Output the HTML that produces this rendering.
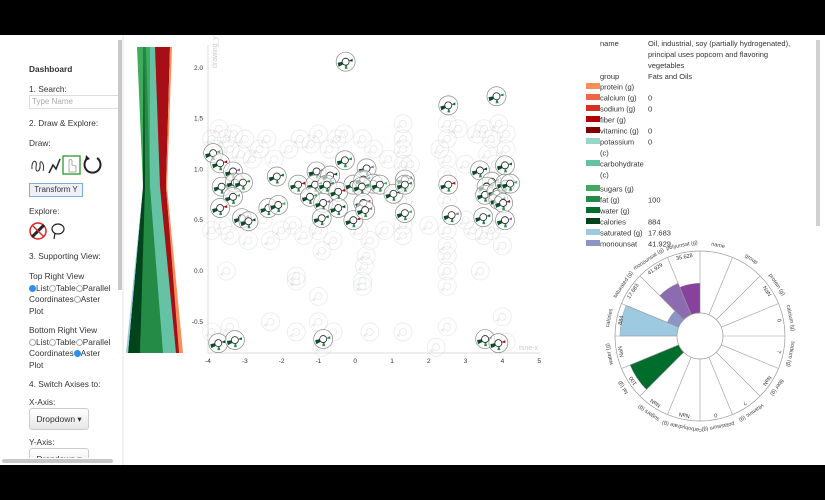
<!DOCTYPE html>
<html><head><meta charset="utf-8">
<style>
html,body{margin:0;padding:0;width:825px;height:500px;overflow:hidden;background:#000;font-family:"Liberation Sans",sans-serif;}
#main{position:absolute;left:0;top:35px;width:825px;height:430px;background:#fff;}
#side{position:absolute;left:0;top:35px;width:118px;height:423px;overflow:hidden;font-size:8.3px;color:#333;}
.t{position:absolute;left:29px;white-space:nowrap;}
.rd{display:inline-block;width:7px;height:7px;border:1px solid #aaa;border-radius:50%;vertical-align:-1px;box-sizing:border-box;}
.rd.on{background:#2f8fef;border-color:#2f8fef;}
.btn{position:absolute;left:29px;width:58px;height:20px;border:1px solid #ccc;border-radius:3px;background:linear-gradient(#fff,#e6e6e6);font-size:8.5px;line-height:20px;text-align:center;color:#333;}
svg{position:absolute;left:0;top:0;}
</style></head><body>
<div id="main"></div>
<div id="side">
 <div class="t" style="top:29px;font-weight:bold">Dashboard</div>
 <div class="t" style="top:49px">1. Search:</div>
 <div style="position:absolute;left:29px;top:60px;width:92px;height:12px;border:1px solid #ddd;font-size:8px;color:#aaa;line-height:12px;padding-left:2px">Type Name</div>
 <div class="t" style="top:83px">2. Draw &amp; Explore:</div>
 <div class="t" style="top:103px">Draw:</div>
 <svg style="left:29px;top:120px" width="60" height="22">
  <path d="M3,14 C2,4 9,4 7,12 C6,18 12,18 11,8 C12,4 16,10 14,16" fill="none" stroke="#333" stroke-width="1"/>
  <path d="M20,18 L24,10 L27,14 L31,4" fill="none" stroke="#222" stroke-width="1.5"/>
  <rect x="34" y="1" width="17" height="18" fill="none" stroke="#2a9a2a" stroke-width="1.3"/>
  <path d="M40,17 L40,6 C40,4 43,4 43,6 L43,10 L47,11 L47,17 Z" fill="none" stroke="#999" stroke-width=".8"/>
 </svg>
 <svg style="left:81px;top:119px" width="24" height="22"><path d="M16,4 A8,8 0 1 1 7,4" fill="none" stroke="#222" stroke-width="2"/><path d="M5,1 L9,5 L4,7 Z" fill="#222"/></svg>
 <div style="position:absolute;left:29px;top:148px;width:52px;height:12px;border:1px solid #7aaee8;background:#eef0f4;font-size:8px;text-align:center;line-height:12px">Transform Y</div>
 <div class="t" style="top:171px">Explore:</div>
 <svg style="left:29px;top:187px" width="44" height="20">
  <circle cx="9" cy="9" r="8" fill="#fff" stroke="#d22" stroke-width="1.5"/><path d="M3,15 L15,3" stroke="#222" stroke-width="3"/><path d="M3,3 L15,15" stroke="#d22" stroke-width="1.3"/>
  <ellipse cx="29" cy="7" rx="6" ry="5" fill="none" stroke="#222" stroke-width="1.2"/><path d="M26,11 L25,17" stroke="#222" stroke-width="1.2"/>
 </svg>
 <div class="t" style="top:216px">3. Supporting View:</div>
 <div class="t" style="top:236px">Top Right View</div>
 <div class="t" style="top:248px"><span class="rd on"></span>List<span class="rd"></span>Table<span class="rd"></span>Parallel</div>
 <div class="t" style="top:259px">Coordinates<span class="rd"></span>Aster</div>
 <div class="t" style="top:271px">Plot</div>
 <div class="t" style="top:290px">Bottom Right View</div>
 <div class="t" style="top:302px"><span class="rd"></span>List<span class="rd"></span>Table<span class="rd"></span>Parallel</div>
 <div class="t" style="top:313px">Coordinates<span class="rd on"></span>Aster</div>
 <div class="t" style="top:325px">Plot</div>
 <div class="t" style="top:344px">4. Switch Axises to:</div>
 <div class="t" style="top:362px">X-Axis:</div>
 <div class="btn" style="top:373px">Dropdown ▾</div>
 <div class="t" style="top:402px">Y-Axis:</div>
 <div class="btn" style="top:413px">Dropdown ▾</div>
</div>
<svg id="chart" width="825" height="500" style="pointer-events:none">
 <rect x="118" y="40" width="4" height="250" fill="#c8c8c8"/>
 <line x1="123" y1="35" x2="123" y2="465" stroke="#e4e4e4"/>
 <rect x="2" y="459" width="111" height="4" rx="2" fill="#c8c8c8"/>
 <rect x="816" y="40" width="4" height="186" fill="#d0d0d0"/>
 <g id="pc"></g>
 <g id="axes"></g>
 <g id="faded"></g>
 <g id="hl"></g>
 <g id="list"></g>
 <g id="aster"></g>
</svg>
<script>
const NS="http://www.w3.org/2000/svg";
function mk(tag,attrs,parent){const e=document.createElementNS(NS,tag);for(const k in attrs)e.setAttribute(k,attrs[k]);parent.appendChild(e);return e;}
// ---- scatter data ----
const xTicks=[-4,-3,-2,-1,0,1,2,3,4,5];
const yTicks=[2.0,1.5,1.0,0.5,0.0,-0.5];
const hlX=[-0.26,2.53,3.84,-3.86,-3.67,-3.32,-3.63,-3.27,-3.05,-3.32,-3.67,-3.08,-2.90,-2.13,-2.36,-2.09,-1.55,-1.05,-0.68,-1.09,-0.77,-1.23,-0.46,-0.87,-0.46,-0.91,-0.28,-0.05,-0.05,0.31,0.22,0.49,0.18,0.67,0.22,0.27,1.04,1.35,1.35,1.35,2.53,2.62,3.39,3.48,3.71,3.57,3.53,3.84,3.89,4.07,4.07,4.21,4.02,4.07,-3.72,-3.27,-0.87,3.53,3.89];
const hlY=[2.06,1.63,1.72,1.16,1.06,0.98,0.83,0.87,0.87,0.73,0.62,0.52,0.49,0.93,0.62,0.65,0.85,0.98,0.94,0.85,0.85,0.73,0.78,0.67,0.62,0.52,1.09,0.85,0.50,1.01,0.90,0.86,0.83,0.85,0.67,0.60,0.76,0.90,0.85,0.57,0.85,0.55,0.99,0.53,0.88,0.83,0.75,0.78,0.70,1.04,0.86,0.86,0.67,0.50,-0.71,-0.68,-0.67,-0.67,-0.71];
const fadedX=[-3.9,-3.7,-3.5,-3.3,-3.8,-3.4,-3.6,-3.4,-3.9,-3.1,-3.0,-2.8,-2.6,-2.9,-2.4,-2.2,-1.8,-1.5,-1.2,-1.0,-0.7,-0.5,-0.3,0.2,0.5,-2.0,-2.3,-1.7,-1.4,-1.0,-0.6,0.1,0.4,0.8,0.9,-2.5,-0.9,0.3,0.2,0.25,-1.0,-1.6,0.2,1.3,1.3,1.3,1.3,1.3,1.3,1.3,1.3,1.5,2.5,2.5,2.5,2.5,2.5,2.5,2.5,2.5,2.5,2.5,2.5,2.3,2.2,2.8,3.0,2.0,3.0,3.5,3.7,3.9,4.1,4.1,3.6,3.8,4.0,3.7,3.5,4.0,3.4,4.0,4.1,3.2,3.3,-3.5,-1.6,-3.4,-2.3,-1.6,-1.0,-0.6,0.4,-0.9,-3.9];
const fadedY=[1.3,1.4,1.3,1.35,1.2,1.2,0.45,0.35,0.4,1.15,1.3,1.1,1.2,0.3,1.3,1.1,1.2,1.3,1.25,1.35,1.2,1.3,1.35,1.3,1.2,0.4,0.3,0.45,0.35,0.4,0.3,0.4,0.3,0.4,1.1,0.5,0.2,0.15,-0.1,0.05,-0.25,-0.1,-0.15,1.45,1.3,1.2,1.05,0.7,0.45,0.35,-0.6,1.05,1.45,1.3,1.1,0.95,0.7,0.4,0.25,0.15,0.0,-0.15,-0.55,1.2,-0.75,1.4,1.05,0.45,0.5,1.4,1.3,1.45,1.35,1.2,1.15,1.05,0.45,0.4,0.35,0.25,0.0,-0.45,-0.7,0.4,1.35,0.0,-0.05,-0.55,-0.5,-0.6,-0.5,-0.6,-0.6,-0.75,-0.6];
function sx(v){return 208+(v+4)*36.8;}
function sy(v){return 271-v*101.6;}
const axes=document.getElementById('axes');
let l=mk('line',{x1:208,y1:45,x2:208,y2:353,stroke:'#ddd','stroke-width':1},axes);

l=mk('line',{x1:208,y1:353,x2:540,y2:353,stroke:'#ddd','stroke-width':1},axes);

xTicks.forEach(v=>{const t=mk('text',{x:sx(v),y:363,'font-size':6.5,'text-anchor':'middle',fill:'#333'},axes);t.textContent=v;

});
yTicks.forEach(v=>{const t=mk('text',{x:203,y:sy(v)+2,'font-size':6.5,'text-anchor':'end',fill:'#333'},axes);t.textContent=v.toFixed(1);

});
let tt=mk('text',{x:538,y:350,'font-size':7,'text-anchor':'end',fill:'#ccc'},axes);tt.textContent='tsne-x';

tt=mk('text',{x:0,y:0,'font-size':7,fill:'#ccc',transform:'translate(217,68) rotate(-90)'},axes);tt.textContent='drawing_y';

const fg=document.getElementById('faded');
fadedX.forEach((v,i)=>{const g=mk('g',{transform:`translate(${sx(v)},${sy(fadedY[i])})`,opacity:0.3},fg);


mk('circle',{r:9,fill:'none',stroke:'#bbb','stroke-width':.8},g);
mk('circle',{r:3.5,fill:'#fff',stroke:'#aaa','stroke-width':.7},g);
mk('path',{d:'M-4,1 L-7,4 L-3,5 Z',fill:'#9cc8b0'},g);});
const hg=document.getElementById('hl');
const acc=['#00441b','#006d2c','#238b45','#41ab5d','#a50f15','#8c6bb1'];
hlX.forEach((v,i)=>{const g=mk('g',{transform:`translate(${sx(v)},${sy(hlY[i])})`},hg);


mk('circle',{r:9.5,fill:'rgba(255,255,255,0.6)',stroke:'#888','stroke-width':.7},g);
mk('path',{d:'M-3,0 L-8,1 L-7,5 L-3,3 Z',fill:'#0b4d2a'},g);
mk('path',{d:'M0,3 L-1,7 L2,7 L1,3 Z',fill:'#238b45'},g);
mk('path',{d:'M3,-1 L7,-3 L7,0 Z',fill:acc[i%acc.length]},g);
mk('circle',{r:3.5,fill:'#fff',stroke:'#222','stroke-width':.8},g);});
// ---- parallel strip (top y=47, mid y=187, bottom y=353) ----
const pcColors=['#41ab5d','#99d8c9','#66c2a4','#238b45','#00441b','#9ecae1','#a50f15','#fc8d59'];
const pcTop=[[137,155],[153,156],[150,155],[143,146],[144,144],[143,143],[155,170],[170,172]];
const pcMid=[[143,160],[155,165],[150,163],[143,150],[143,145],[143,143],[160,166],[166,167]];
const pcBot=[[140,163],[165,175],[160,178],[140,163],[128,140],[126,128],[176,180],[179,183]];
const pc=document.getElementById('pc');
pcColors.forEach((c,i)=>{const p=mk('polygon',{points:`${pcTop[i][0]},47 ${pcTop[i][1]},47 ${pcMid[i][1]},187 ${pcBot[i][1]},353 ${pcBot[i][0]},353 ${pcMid[i][0]},187`,fill:c},pc);

});
// ---- detail list ----
const lg=document.getElementById('list');
[['name',42],['group',75]].forEach(r=>{const t=mk('text',{x:600,y:r[1]+4,'font-size':7.5,fill:'#333'},lg);t.textContent=r[0];
});
const nameLines=['Oil, industrial, soy (partially hydrogenated),','principal uses popcorn and flavoring','vegetables'];
nameLines.forEach((s,i)=>{const t=mk('text',{x:648,y:46+i*11,'font-size':7.5,fill:'#333'},lg);t.textContent=s;
});
let gt=mk('text',{x:648,y:79,'font-size':7.5,fill:'#333'},lg);gt.textContent='Fats and Oils';

const legNames=['protein (g)','calcium (g)','sodium (g)','fiber (g)','vitaminc (g)','potassium','(c)','carbohydrate','(c)','sugars (g)','fat (g)','water (g)','calories','saturated (g)','monounsat'];
const legColors=['#fc8d59','#ef6548','#d7301f','#b30000','#7f0000','#99d8c9',null,'#66c2a4',null,'#41ab5d','#238b45','#006d2c','#00441b','#9ecae1','#8c96c6'];
const legVals=['','0','0','','0','0','','','','','100','','884','17.683','41.929'];
const legY=[87,98,109,120,131,142,153,164,175,189,200,211,222,233,244];
legNames.forEach((n,i)=>{
 if(legColors[i]){const r=mk('rect',{x:586,y:legY[i]-4,width:14,height:6,fill:legColors[i]},lg);
 }
 const t=mk('text',{x:600,y:legY[i]+2.5,'font-size':7.5,fill:'#333'},lg);t.textContent=n;
 
 if(legVals[i]){const v=mk('text',{x:648,y:legY[i]+2.5,'font-size':7.5,fill:'#333'},lg);v.textContent=legVals[i];
 }
});
// ---- aster ----
const asterLabels=['name','group','protein (g)','calcium (g)','sodium (g)','fiber (g)','vitaminc (g)','potassium (g)','carbohydrate (g)','sugars (g)','fat (g)','water (g)','calories','saturated (g)','monounsat (g)','polyunsat (g)'];
const asterVals=[0,0,0,0,0,0,0,0,0,0,0.85,0,0.92,0.2,0.55,0.48];
const asterColors=['#ccc','#ccc','#fc8d59','#ef6548','#d7301f','#b30000','#7f0000','#99d8c9','#66c2a4','#41ab5d','#006d2c','#238b45','#9ecae1','#8c96c6','#8c6bb1','#88419d'];
const asterText=['','','NaN','0','?','NaN','?','0','NaN','NaN','100','NaN','884','17.683','41.929','35.628'];
const cx=700,cy=336,r0=23,r1=85;
const ag=document.getElementById('aster');
const n=asterLabels.length,step=2*Math.PI/n;
function pt(r,a){return [cx+r*Math.sin(a),cy-r*Math.cos(a)];}
asterVals.forEach((v,i)=>{
 const a0=i*step,a1=(i+1)*step;
 if(v>0){const rr=r0+(r1-r0)*v;const p1=pt(r0,a0),p2=pt(rr,a0),p3=pt(rr,a1),p4=pt(r0,a1);
  const p=mk('path',{d:`M${p1} L${p2} A${rr},${rr} 0 0 1 ${p3} L${p4} A${r0},${r0} 0 0 0 ${p1} Z`,fill:asterColors[i],stroke:'#999','stroke-width':.4},ag);
  }
 const q1=pt(r0,a0),q2=pt(r1,a0);
 const ln=mk('line',{x1:q1[0],y1:q1[1],x2:q2[0],y2:q2[1],stroke:'#999','stroke-width':.6},ag);
 
 const am=(a0+a1)/2,deg=am*180/Math.PI;
 const lp=pt(r1+6,am);
 const t=mk('text',{x:lp[0],y:lp[1],'font-size':5.5,fill:'#444','text-anchor':'middle',transform:`rotate(${deg},${lp[0]},${lp[1]})`},ag);t.textContent=asterLabels[i];
 
 if(asterText[i]){const vp=pt(r1-6,am);const vt=mk('text',{x:vp[0],y:vp[1],'font-size':5.5,fill:'#333','text-anchor':'middle',transform:`rotate(${deg},${vp[0]},${vp[1]})`},ag);vt.textContent=asterText[i];
 }
});
let oc=mk('circle',{cx:cx,cy:cy,r:r1,fill:'none',stroke:'#999','stroke-width':.7},ag);

let ic=mk('circle',{cx:cx,cy:cy,r:r0,fill:'#fff',stroke:'#999','stroke-width':.7},ag);

</script>
</body></html>
